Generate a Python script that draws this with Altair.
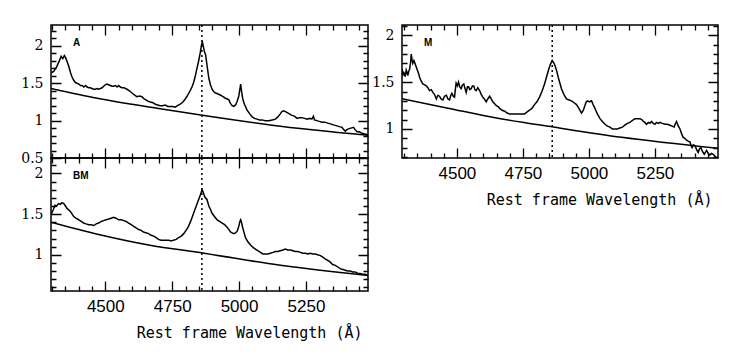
import altair as alt
import pandas as pd

# ---------------- data ----------------
HBETA = 4861

A_WAVE = [4298, 4307, 4318, 4328, 4335, 4341, 4347, 4352, 4358, 4363, 4370, 4376, 4382, 4388, 4394,
          4401, 4407, 4413, 4420, 4426, 4432, 4438, 4444, 4450, 4457, 4463, 4469, 4475, 4482, 4488,
          4494, 4500, 4506, 4512, 4519, 4525, 4531, 4538, 4544, 4550, 4556, 4562, 4570, 4581, 4590,
          4600, 4610, 4618, 4628, 4637, 4645, 4650, 4660, 4668, 4678, 4687, 4696, 4705, 4714, 4724,
          4733, 4743, 4752, 4761, 4770, 4780, 4790, 4799, 4808, 4817, 4824, 4830, 4836, 4842, 4849,
          4855, 4860, 4863, 4866, 4870, 4875, 4881, 4887, 4893, 4899, 4905, 4912, 4920, 4931, 4940,
          4949, 4956, 4962, 4965, 4968, 4974, 4980, 4987, 4993, 4999, 5003, 5006, 5009, 5014, 5020,
          5030, 5040, 5049, 5058, 5067, 5076, 5086, 5098, 5111, 5124, 5136, 5145, 5154, 5160, 5167,
          5173, 5179, 5188, 5198, 5207, 5217, 5226, 5235, 5245, 5254, 5265, 5272, 5278, 5282, 5291,
          5300, 5310, 5320, 5329, 5338, 5347, 5356, 5366, 5375, 5385, 5391, 5397, 5403, 5409, 5418,
          5428, 5434, 5441, 5450, 5459, 5470, 5482]
A_FLUX = [1.64, 1.66, 1.72, 1.80, 1.86, 1.83, 1.87, 1.84, 1.78, 1.73, 1.64, 1.58, 1.54, 1.51, 1.50,
          1.49, 1.47, 1.47, 1.45, 1.47, 1.45, 1.44, 1.44, 1.43, 1.42, 1.42, 1.43, 1.42, 1.43, 1.44,
          1.46, 1.48, 1.49, 1.48, 1.47, 1.46, 1.46, 1.47, 1.45, 1.47, 1.45, 1.44, 1.44, 1.42, 1.40,
          1.37, 1.34, 1.32, 1.33, 1.32, 1.29, 1.28, 1.26, 1.25, 1.24, 1.22, 1.21, 1.20, 1.20, 1.21,
          1.19, 1.19, 1.19, 1.18, 1.20, 1.22, 1.25, 1.29, 1.34, 1.40, 1.45, 1.51, 1.59, 1.69, 1.80,
          1.91, 2.02, 2.05, 2.00, 1.93, 1.88, 1.72, 1.57, 1.48, 1.42, 1.39, 1.37, 1.36, 1.34, 1.32,
          1.30, 1.29, 1.28, 1.25, 1.23, 1.20, 1.19, 1.21, 1.26, 1.33, 1.42, 1.49, 1.40, 1.29, 1.22,
          1.14, 1.09, 1.05, 1.03, 1.02, 1.01, 1.01, 1.00, 1.00, 1.01, 1.02, 1.05, 1.09, 1.12, 1.13,
          1.12, 1.11, 1.09, 1.07, 1.06, 1.03, 1.04, 1.04, 1.03, 1.02, 1.03, 1.02, 1.06, 1.01, 1.00,
          0.99, 0.98, 0.98, 0.97, 0.96, 0.95, 0.94, 0.93, 0.92, 0.91, 0.88, 0.86, 0.88, 0.89, 0.90,
          0.91, 0.88, 0.85, 0.85, 0.83, 0.82, 0.81]
A_CONT_WAVE = [4297, 4475, 4699, 4875, 5123, 5482]
A_CONT_FLUX = [1.43, 1.295, 1.162, 1.064, 0.939, 0.805]

BM_WAVE = [4298, 4305, 4312, 4318, 4325, 4332, 4338, 4345, 4351, 4357, 4364, 4370, 4376, 4382, 4390,
           4396, 4401, 4410, 4419, 4428, 4438, 4447, 4457, 4466, 4475, 4485, 4494, 4503, 4513, 4522,
           4531, 4540, 4550, 4560, 4569, 4578, 4587, 4597, 4606, 4615, 4625, 4634, 4643, 4652, 4662,
           4671, 4681, 4690, 4699, 4708, 4718, 4727, 4737, 4746, 4755, 4765, 4774, 4784, 4793, 4802,
           4811, 4820, 4830, 4840, 4849, 4856, 4862, 4866, 4872, 4880, 4887, 4893, 4899, 4908, 4918,
           4927, 4937, 4946, 4955, 4962, 4968, 4974, 4980, 4987, 4993, 4999, 5003, 5006, 5009, 5014,
           5019, 5024, 5033, 5043, 5052, 5061, 5070, 5080, 5089, 5098, 5108, 5117, 5127, 5136, 5145,
           5154, 5164, 5173, 5182, 5192, 5201, 5210, 5220, 5229, 5238, 5248, 5257, 5266, 5276, 5285,
           5294, 5304, 5313, 5322, 5332, 5341, 5350, 5360, 5369, 5378, 5388, 5397, 5406, 5416, 5425,
           5434, 5444, 5453, 5462, 5472, 5478, 5484]
BM_FLUX = [1.50, 1.55, 1.61, 1.60, 1.63, 1.62, 1.64, 1.63, 1.60, 1.57, 1.55, 1.53, 1.50, 1.47, 1.45,
           1.44, 1.43, 1.41, 1.39, 1.38, 1.37, 1.37, 1.36, 1.38, 1.39, 1.41, 1.42, 1.43, 1.44, 1.45,
           1.46, 1.45, 1.43, 1.43, 1.42, 1.41, 1.39, 1.37, 1.35, 1.33, 1.31, 1.30, 1.28, 1.27, 1.26,
           1.24, 1.23, 1.21, 1.19, 1.18, 1.18, 1.18, 1.18, 1.17, 1.18, 1.19, 1.21, 1.23, 1.26, 1.30,
           1.35, 1.42, 1.51, 1.60, 1.68, 1.74, 1.80, 1.77, 1.71, 1.68, 1.60, 1.56, 1.51, 1.47, 1.43,
           1.41, 1.39, 1.37, 1.34, 1.31, 1.28, 1.27, 1.26, 1.27, 1.29, 1.35, 1.41, 1.43, 1.40, 1.33,
           1.27, 1.21, 1.16, 1.12, 1.09, 1.07, 1.05, 1.03, 1.01, 1.01, 1.01, 1.02, 1.03, 1.04, 1.04,
           1.05, 1.06, 1.07, 1.06, 1.06, 1.05, 1.04, 1.04, 1.03, 1.02, 1.02, 1.01, 1.02, 1.01, 1.01,
           1.00, 0.99, 0.97, 0.95, 0.93, 0.91, 0.88, 0.87, 0.85, 0.83, 0.82, 0.81, 0.80, 0.80, 0.79,
           0.79, 0.77, 0.77, 0.76, 0.76, 0.75, 0.74]
BM_CONT_WAVE = [4297, 4475, 4662, 4875, 5123, 5484]
BM_CONT_FLUX = [1.40, 1.25, 1.121, 1.017, 0.886, 0.744]

M_WAVE = [4292, 4296, 4299, 4304, 4308, 4312, 4314, 4318, 4321, 4325, 4327, 4330, 4333, 4337, 4340,
          4345, 4350, 4355, 4359, 4365, 4371, 4378, 4384, 4390, 4396, 4403, 4409, 4415, 4422, 4428,
          4434, 4440, 4447, 4453, 4460, 4466, 4472, 4477, 4481, 4486, 4491, 4494, 4497, 4502, 4506,
          4511, 4516, 4521, 4526, 4531, 4535, 4540, 4544, 4549, 4554, 4559, 4564, 4568, 4573, 4579,
          4586, 4592, 4598, 4604, 4611, 4617, 4624, 4630, 4636, 4643, 4649, 4656, 4662, 4671, 4681,
          4690, 4700, 4709, 4718, 4728, 4737, 4746, 4756, 4765, 4775, 4784, 4794, 4803, 4813, 4822,
          4832, 4840, 4847, 4854, 4861, 4866, 4871, 4878, 4884, 4890, 4896, 4905, 4915, 4925, 4934,
          4944, 4953, 4962, 4972, 4979, 4985, 4990, 4995, 5002, 5010, 5016, 5023, 5032, 5042, 5051,
          5061, 5070, 5080, 5089, 5099, 5108, 5117, 5127, 5136, 5146, 5155, 5164, 5174, 5183, 5193,
          5200, 5206, 5212, 5218, 5225, 5231, 5237, 5244, 5250, 5256, 5263, 5269, 5278, 5288, 5297,
          5307, 5315, 5323, 5328, 5332, 5337, 5345, 5351, 5357, 5363, 5370, 5376, 5383, 5387, 5391,
          5396, 5402, 5408, 5414, 5419, 5424, 5430, 5437, 5441, 5446, 5452, 5458, 5464, 5471, 5477,
          5484, 5489]
M_FLUX = [1.64, 1.58, 1.60, 1.56, 1.63, 1.60, 1.57, 1.62, 1.64, 1.72, 1.80, 1.74, 1.70, 1.73, 1.71,
          1.67, 1.63, 1.59, 1.55, 1.51, 1.48, 1.47, 1.46, 1.44, 1.41, 1.42, 1.39, 1.37, 1.32, 1.36,
          1.35, 1.32, 1.31, 1.35, 1.36, 1.32, 1.31, 1.36, 1.38, 1.35, 1.34, 1.42, 1.49, 1.46, 1.50,
          1.45, 1.43, 1.47, 1.48, 1.43, 1.39, 1.45, 1.45, 1.42, 1.43, 1.46, 1.46, 1.42, 1.41, 1.44,
          1.41, 1.37, 1.34, 1.32, 1.29, 1.32, 1.35, 1.32, 1.29, 1.27, 1.25, 1.24, 1.22, 1.20, 1.19,
          1.17, 1.16, 1.16, 1.16, 1.16, 1.16, 1.16, 1.16, 1.18, 1.20, 1.22, 1.26, 1.29, 1.34, 1.40,
          1.48, 1.56, 1.63, 1.69, 1.73, 1.71, 1.68, 1.62, 1.55, 1.49, 1.43, 1.37, 1.32, 1.31, 1.30,
          1.28, 1.26, 1.22, 1.17, 1.20, 1.25, 1.29, 1.30, 1.29, 1.30, 1.26, 1.22, 1.16, 1.11, 1.08,
          1.05, 1.03, 1.02, 1.00, 1.00, 1.00, 1.01, 1.02, 1.04, 1.06, 1.07, 1.09, 1.11, 1.11, 1.11,
          1.10, 1.08, 1.07, 1.05, 1.07, 1.06, 1.08, 1.06, 1.05, 1.07, 1.06, 1.07, 1.06, 1.05, 1.05,
          1.04, 1.03, 1.02, 1.06, 1.08, 1.04, 1.00, 0.95, 0.91, 0.90, 0.88, 0.87, 0.86, 0.82, 0.80,
          0.83, 0.82, 0.78, 0.75, 0.79, 0.80, 0.76, 0.73, 0.75, 0.77, 0.74, 0.72, 0.74, 0.73, 0.71,
          0.69, 0.69]
M_CONT_WAVE = [4292, 4466, 4655, 4871, 5124, 5490]
M_CONT_FLUX = [1.322, 1.222, 1.115, 1.018, 0.911, 0.793]

# tick positions (major ones carry labels)
X_TICKS = [4300, 4350, 4400, 4450, 4500, 4550, 4600, 4650, 4700, 4750, 4800, 4850, 4900, 4950,
           5000, 5050, 5100, 5150, 5200, 5250, 5300, 5350, 5400, 5450]
Y_TICKS = [0.5, 0.6, 0.7, 0.8, 0.9, 1.0, 1.1, 1.2, 1.3, 1.4, 1.5, 1.6, 1.7, 1.8, 1.9, 2.0,
           2.1, 2.2]

TITLE = "Rest frame Wavelength (Å)"

X_MAJOR_TEST = "datum.value % 250 === 0"
Y_MAJOR_TEST = "abs(datum.value * 2 - round(datum.value * 2)) < 0.001"


def panel(name, wave, flux, cwave, cflux, xdom, ydom, w, h, show_x):
    xs = alt.Scale(domain=xdom, nice=False, zero=False)
    ys = alt.Scale(domain=ydom, nice=False, zero=False)
    xvals = [v for v in X_TICKS if xdom[0] <= v <= xdom[1]]
    yvals = [v for v in Y_TICKS if ydom[0] <= v <= ydom[1]]

    # frame ticks drawn as dashed grid lines: a short dash at each end of the line
    xgrid = dict(grid=True, gridColor="black", gridOpacity=1, gridWidth=1.3,
                 gridDash={"condition": {"test": X_MAJOR_TEST, "value": [10, h - 20, 10, 0]},
                           "value": [5, h - 10, 5, 0]})
    ygrid = dict(grid=True, gridColor="black", gridOpacity=1, gridWidth=1.3,
                 gridDash={"condition": {"test": Y_MAJOR_TEST, "value": [10, w - 20, 10, 0]},
                           "value": [5, w - 10, 5, 0]})

    if show_x:
        xaxis = alt.Axis(values=xvals, format="d", ticks=False, domain=False,
                         labelExpr=f"{X_MAJOR_TEST} ? datum.label : ''",
                         labelOverlap=False, labelFlush=False,
                         labelFont="Liberation Sans", labelFontSize=17, labelPadding=7,
                         labelColor="black", title=TITLE, titleFont="DejaVu Sans Mono",
                         titleFontSize=15, titleFontWeight="normal", titleColor="black",
                         titleAlign="right", titleAnchor="end", titleX=w - 6, titleY=46,
                         titleBaseline="alphabetic", **xgrid)
    else:
        xaxis = alt.Axis(values=xvals, ticks=False, domain=False, labels=False,
                         title=None, **xgrid)
    yaxis = alt.Axis(values=yvals, format="~g", ticks=False, domain=False,
                     labelExpr=f"{Y_MAJOR_TEST} ? datum.label : ''",
                     labelOverlap=False, labelFlush=False,
                     labelFont="DejaVu Serif", labelFontSize=14, labelPadding=8,
                     labelColor="black", title=None, **ygrid)

    spec = alt.Chart(pd.DataFrame({"wave": wave, "flux": flux})).mark_line(
        color="black", strokeWidth=1.5, clip=True
    ).encode(x=alt.X("wave:Q", scale=xs, axis=xaxis),
             y=alt.Y("flux:Q", scale=ys, axis=yaxis))

    cont = alt.Chart(pd.DataFrame({"wave": cwave, "flux": cflux})).mark_line(
        color="black", strokeWidth=1.5, interpolate="monotone", clip=True
    ).encode(x=alt.X("wave:Q", scale=xs, axis=xaxis),
             y=alt.Y("flux:Q", scale=ys, axis=yaxis))

    hb = alt.Chart(pd.DataFrame({"wave": [HBETA]})).mark_rule(
        color="black", strokeWidth=1.5, strokeDash=[2, 3]
    ).encode(x=alt.X("wave:Q", scale=xs, axis=xaxis))

    lab = alt.Chart(pd.DataFrame({"label": [name]})).mark_text(
        align="left", baseline="middle", font="Liberation Sans", fontSize=10,
        fontWeight="bold", color="black"
    ).encode(x=alt.value(22), y=alt.value(18), text="label:N")

    return alt.layer(spec, cont, hb, lab).properties(width=w, height=h)


pA = panel("A", A_WAVE, A_FLUX, A_CONT_WAVE, A_CONT_FLUX, [4297, 5482], [0.5, 2.28],
           317, 133, False)
pBM = panel("BM", BM_WAVE, BM_FLUX, BM_CONT_WAVE, BM_CONT_FLUX, [4297, 5482], [0.555, 2.19],
            317, 133, True)
pM = panel("M", M_WAVE, M_FLUX, M_CONT_WAVE, M_CONT_FLUX, [4292, 5489], [0.69, 2.11],
           316, 133, True)

chart = alt.concat(pA, pM, pBM, columns=2, spacing={"row": 0, "column": 34},
                   bounds="flush").properties(
    padding={"left": 11, "top": 10, "right": 5, "bottom": 5},
    background="white",
).configure_view(stroke="black", strokeWidth=1.5)

chart.save("out.html", embed_options={"renderer": "svg", "actions": False})
